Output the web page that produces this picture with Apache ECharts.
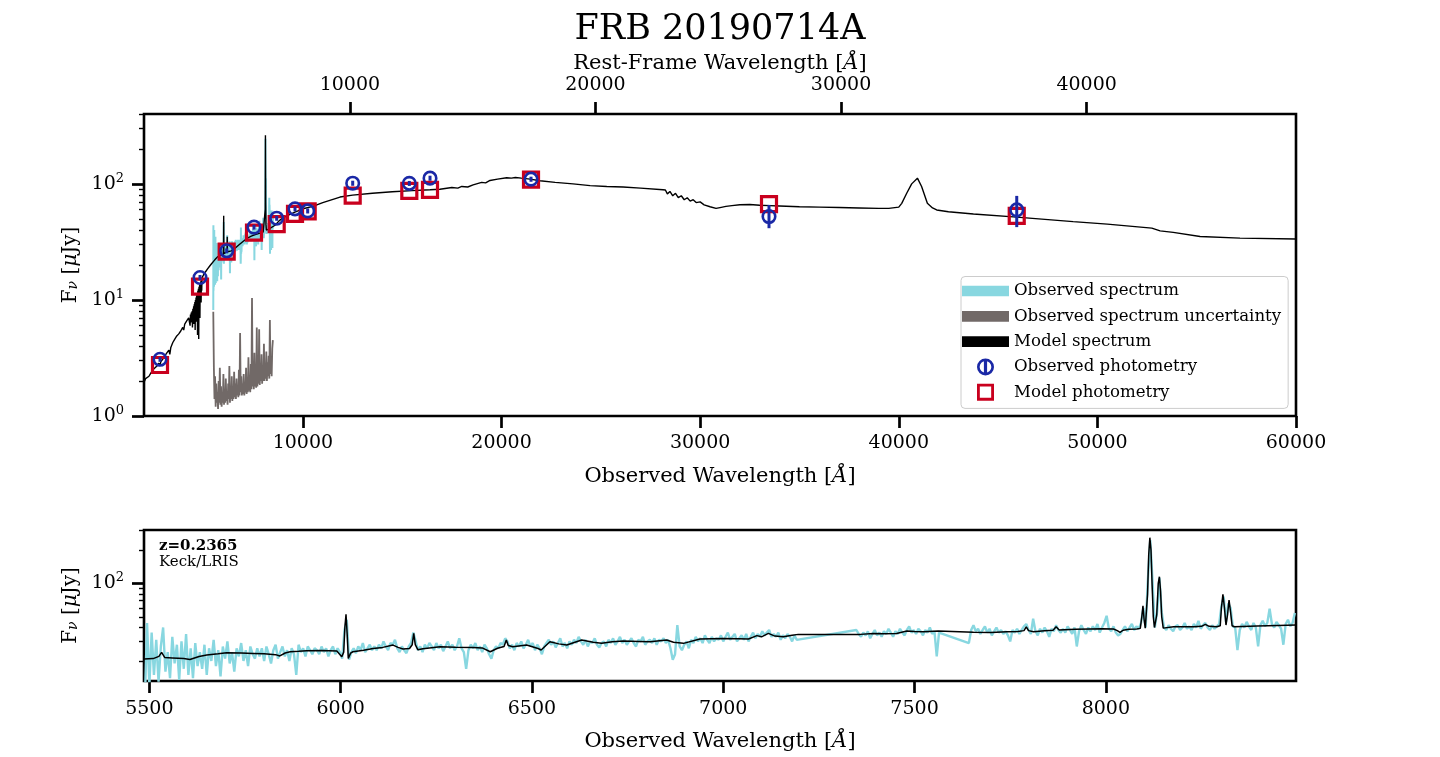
<!DOCTYPE html>
<html><head><meta charset="utf-8">
<script src="https://cdn.jsdelivr.net/npm/echarts@6/dist/echarts.min.js"></script>
<style>html,body{margin:0;background:#fff}#c{width:1440px;height:757px}</style>
</head><body><div id="c"></div>
<script>
// FRB 20190714A host SED — top: full SED, bottom: Keck/LRIS zoom
const SERIF = 'DejaVu Serif';
const C = {cyan:'#88D7E0', gray:'#716967', blue:'#1A28A6', red:'#C9001E', ink:'#000'};
const Z = 0.2365;

// observed spectrum, uniform grid (start, step in Å); null = masked
const OBS_W0 = 5488, OBS_DW = 6;
const obsFlux = [
  8.2,44,12,36,15,31,13,27,40,16,24,14,33,19,28,13.5,30,17,35,15,26,14,29,18,24,
  17,28,15,26,20,31,18,25,14.5,27,21,30,19,24,16,26,22,29,20,25,18,27,23,21,26,
  22,26,20,27,23,19,25,28,21,24,27,22,25,20,26,23,15,28,24,26,22,27,25,23,26,
  25,23,27,24,26,22,25,27,23,26,24,21,38,47,20.5,24,26,23.5,27,25,29,24,26,28,25,
  27,25,28,26,30,27,25,29,28,31,26,24,27,25,23.5,27,29,36,30,25,27,24,28,26,29,
  27,25,29,26,28,24.5,27,30,26,28,25,27,32,26,24,17,25,28,26,29,25,27,24,28,26,
  23,21,25,27,26,29,28,32,30,26,28,25,29,27,30,26,28,31,27,29,25,28,26,23,27,
  29,31,28,30,26.5,29,32,27,29,26,30,28,31,29,33,30,28,31,27,30,29,32,28,26.5,29,
  30,27,31,29,32,28,30,33,29,31,28,30,32,29,27,31,30,33,28,30,31,29,32,28,31,
  30,32,29,31,26,20.5,23,42,27,25,28,30,26,31,29,33,30,32,29,34,31,29,33,30,32,
  31,34,30,33,36,31,33,35,30,32,34,31,35,30,33,36,32,35,33,37,34,36,38,33,35,
  33,36,31,34,32,35,33,30,34,31,null,null,null,null,null,null,null,null,null,null,null,null,null,null,null,
  null,null,null,null,null,null,null,null,null,null,38,35,33,36,34,37,32,35,38,34,36,33,37,35,39,
  36,33,37,35,39,36,34,38,41,36,38,35,39,37,34,38,36,40,35,37,22,36,null,null,null,
  null,null,null,null,null,null,null,null,null,29,38,42,37,39,35,38,41,36,39,34,37,40,36,38,35,
  37,34,30,38,36,39,35,38,41,43,38,35,48,37,34,39,36,40,37,33,39,37,42,38,36,
  39,36,41,38,35,40,27,37,42,38,35,40,37,41,38,43,36,40,44,51,39,37,41,36,34,
  35,38,41,37,40,43,38,41,39,44,60,40,110,245,105,40,55,112,55,40,38,42,39,37,41,
  42,38,40,44,39,41,38,43,40,46,39,42,44,40,38,42,39,41,43,62,76,45,66,60,41,
  40,25,38,43,40,45,41,38,44,40,27,42,46,41,44,59,43,40,45,42,39,28,43,47,41,
  44,54
];

// observed spectrum uncertainty, grid 5488 + 30 i
const ERR_W0 = 5488, ERR_DW = 30;
const errFlux = [
  7.9,2.6,1.4,2.2,1.2,1.9,1.3,1.6,1.15,2.0,1.3,2.6,1.25,1.8,1.2,1.5,1.3,2.3,1.25,1.7,
  1.3,2.1,1.35,1.6,1.25,1.9,1.4,2.7,1.3,1.8,1.4,2.2,1.35,1.7,1.4,2.4,1.45,1.9,1.4,2.1,
  1.5,1.8,1.45,2.5,1.5,5.2,1.6,2.2,1.5,1.9,1.55,2.3,1.5,1.8,1.6,2.6,1.55,2.0,1.6,3.2,
  1.65,2.1,1.6,2.8,1.7,10.4,1.8,2.4,1.7,3.5,1.8,2.6,1.75,5.8,1.8,3.0,1.9,5.6,1.85,2.7,
  2.0,3.4,1.9,2.6,2.0,4.2,2.0,2.8,2.1,3.6,2.0,2.9,2.2,3.3,2.1,6.7,2.3,3.1,2.2,3.8,4.5
];

// model spectrum, full SED [wavelength Å, flux µJy]
const modelTop = [
  [2000,1.95],[2080,2.1],[2150,2.05],[2250,2.2],[2350,2.35],[2450,2.5],[2550,2.45],[2650,2.7],
  [2750,2.85],[2800,2.7],[2850,2.95],[2950,3.1],[3050,3.3],[3150,3.5],[3250,3.7],[3300,3.4],
  [3350,3.9],[3450,4.3],[3550,4.6],[3650,4.9],[3750,5.1],[3850,5.4],[3950,5.8],[4000,5.5],
  [4050,6.2],[4150,6.6],[4250,7.0],[4300,7.2],[4320,6.0],[4340,7.5],[4360,6.4],[4380,7.8],
  [4400,6.8],[4420,8.0],[4440,5.8],[4460,8.4],[4480,7.0],[4500,8.8],[4515,6.2],[4530,9.2],
  [4545,7.5],[4560,9.6],[4575,5.5],[4590,10],[4605,8],[4620,10.5],[4635,6.5],[4650,11],
  [4665,8.5],[4680,11.5],[4695,5.0],[4710,12],[4725,9],[4740,12.5],[4755,4.6],[4770,13],
  [4785,10],[4800,13.5],[4815,7],[4830,14],[4845,11],[4860,14.5],[4875,9.5],[4890,15],
  [4905,12],[4920,15.5],[4960,16],[5000,16.5],[5100,17.5],
  [5200,18.5],[5300,19.5],[5400,20.5],[5500,21.5],[5600,22.5],[5700,23.5],[5850,24.2],[5990,24.6],
  [6005,30],[6012,53],[6020,25],[6100,25.5],[6180,26],[6191,35],[6200,26],[6400,26.5],
  [6600,28],[6800,30],[7000,32],[7200,34],[7400,35.5],[7600,36.5],[7800,37.5],[8000,38.5],
  [8095,39],[8105,60],[8114,262],[8125,70],[8140,45],[8160,40],[8300,41],[8400,42],
  [8600,44],[8800,48],[9000,51],[9300,54],[9600,57],[10000,61],[10500,64],[11000,69],
  [11870,77],[12500,80],[13500,83],[14500,85.5],[15500,87.5],[16400,89],[16900,90],[17500,93],
  [17800,92],[18000,95],[18300,94],[18570,98],[19000,103],[19200,102],[19420,107],[19800,110],
  [20260,113],[20500,112],[20700,113.5],[21000,112],[21440,110],[21940,106.5],[22700,103],[23600,100],
  [24460,96.5],[25300,95],[26120,94],[27000,92],[28130,89],[28250,88.5],[28350,82],[28480,86],
  [28620,79],[28760,83],[28900,76],[29050,79],[29200,73],[29350,76],[29500,71],[29650,73],
  [29800,69],[30000,70],[30200,66],[30500,63.5],[30800,61.5],[31000,62.5],[31300,64],[31600,65],
  [32000,66],[32500,66.5],[33000,65.5],[33500,65],[34000,64.5],[35000,63.5],[36000,63],[37000,62.5],
  [38000,62],[39000,61.5],[39500,61.5],[40000,63],[40150,68],[40400,83],[40650,100],[40940,112],
  [41150,95],[41440,68],[41700,62],[41910,59.6],[42500,57.5],[43760,55],[45940,51.7],[48780,47.3],
  [50500,45],[52740,41.6],[53160,39.4],[53820,38.2],[55170,35.2],[57180,34.1],[60000,33.5]
];

// model spectrum, LRIS range, with emission lines
const modelBot = [
  [5486,20.8],[5510,21.0],[5525,22.0],[5532,23.9],[5540,21.5],[5560,21.3],[5590,21.0],[5606,20.6],
  [5630,21.9],[5650,22.6],[5680,23.2],[5702,23.7],[5740,23.6],[5771,23.4],[5800,23.2],[5830,22.8],
  [5841,22.2],[5855,23.6],[5868,24.2],[5890,24.4],[5911,24.7],[5950,24.8],[5990,24.6],[6003,21.8],
  [6008,24],[6011,40],[6014,52.6],[6017,35],[6020,21.1],[6026,23.5],[6032,24.2],[6060,25.0],
  [6085,25.9],[6110,26.5],[6137,27.8],[6150,26.5],[6163,25.6],[6180,25.9],[6187,28],[6191,35.4],
  [6195,28],[6202,25.2],[6215,25.8],[6260,26.8],[6300,26.6],[6346,26.5],[6370,26.2],[6391,24.2],
  [6410,26.0],[6427,27],[6433,30.9],[6438,27.5],[6450,26.8],[6486,27.8],[6516,25.9],[6524,25.1],
  [6547,29.8],[6570,28.5],[6591,27.8],[6630,30.9],[6660,29.5],[6682,28.8],[6710,29.8],[6739,30.2],
  [6780,30.0],[6809,29.8],[6852,30.9],[6870,29.5],[6896,28.8],[6939,31.5],[6970,31.7],[7000,31.9],
  [7040,31.7],[7066,31.5],[7088,33.8],[7100,33.0],[7118,35.4],[7135,33.5],[7157,33.0],[7180,34.0],
  [7196,34.7],[7358,34.7],[7392,35.4],[7420,35.2],[7453,35.4],[7480,37.2],[7500,36.8],[7523,36.6],
  [7562,37.2],[7567,36.2],[7654,36.2],[7700,36.0],[7741,36.6],[7770,36.8],[7786,37.5],[7792,40.6],
  [7798,37.5],[7811,36.6],[7840,37.5],[7862,37.8],[7870,40.6],[7878,38.0],[7920,38.5],[7959,38.8],
  [7990,38.9],[8020,38.8],[8030,37.5],[8037,36.2],[8045,37.8],[8060,38.5],[8081,38.8],[8090,39.3],
  [8094,50],[8097,62.8],[8100,47],[8103,39.5],[8106,40.5],[8109,80],[8112,180],[8115,257.5],
  [8118,200],[8121,95],[8124,50],[8127,40],[8130,39.3],[8133,52],[8137,100],[8140,114.7],
  [8143,85],[8146,50],[8150,39.5],[8155,38.8],[8177,40.6],[8229,40.6],[8250,41],[8260,42.7],
  [8270,41],[8290,40.6],[8299,41.5],[8302,60],[8306,79.6],[8310,60],[8314,42.1],[8318,52],
  [8322,70.8],[8326,55],[8330,41.5],[8336,40.6],[8395,41.2],[8450,41.8],[8497,42.1]
];

// photometry
const photWave  = [2806,4820,6163,7538,8681,9603,10241,12507,15358,16400,21485,33467,45940];
const photObs   = [3.08,15.6,26.5,42.4,50.6,60.9,58.5,101.4,101,112,109.8,52.3,59.7];
const photLo    = [2.93,14.8,25.2,40.3,48.1,57.9,55.6,96.3,96,106.4,104.3,41.5,42.4];
const photHi    = [3.23,16.4,27.8,44.5,53.1,63.9,61.4,106.5,106,117.6,115.3,65.9,78.8];
const photModel = [2.75,13.0,26.1,38.0,45.0,55.1,58.0,79.3,87.0,88.8,109.0,66.8,52.9];

// axis ranges and ticks
const TOP_X = [2000, 60000], TOP_Y = [1, 400];
const BOT_X = [5486, 8497], BOT_Y = [13.2, 302];
const obsTicks  = [10000,20000,30000,40000,50000,60000];
const restTicks = [10000,20000,30000,40000];
const botTicks  = [5500,6000,6500,7000,7500,8000];
const topMajor  = [1,10,100];
const topMinor  = [2,3,4,5,6,7,8,9,20,30,40,50,60,70,80,90,200,300,400];
const botMajor  = [100];
const botMinor  = [20,30,40,50,60,70,80,90,200,300];

const obsData = obsFlux.map((f,i)=>[OBS_W0+OBS_DW*i, f]);
const errData = errFlux.map((f,i)=>[ERR_W0+ERR_DW*i, f]);

const T = {fontFamily:SERIF, color:C.ink};
const AXNAME = {...T, fontSize:21, rich:{i:{...T,fontSize:21,fontStyle:'italic'}}};
const YNAME = {...T, fontSize:20, rich:{
  n:{...T,fontSize:20}, s:{...T,fontSize:14,fontStyle:'italic',verticalAlign:'bottom'},
  i:{...T,fontSize:20,fontStyle:'italic'}}};
const sci = v => '{b|10}{sup|'+Math.round(Math.log10(v))+'}';
const SCIRICH = {b:{...T,fontSize:19,lineHeight:24}, sup:{...T,fontSize:13,verticalAlign:'top'}};

function xAx(grid, range, ticks, pos, name, gap, margin){
  return {gridIndex:grid, type:'value', min:range[0], max:range[1], position:pos,
    name, nameLocation:'middle', nameGap:gap, nameTextStyle:AXNAME,
    axisLine:{show:false}, splitLine:{show:false},
    axisTick:{customValues:ticks, length:12, lineStyle:{width:2.7,color:C.ink}},
    axisLabel:{customValues:ticks, margin, formatter:v=>String(v), ...T, fontSize:19}};
}
function yMajor(grid, range, ticks){
  return {gridIndex:grid, type:'log', logBase:10, min:range[0], max:range[1], position:'left',
    name:'{n|F}{s|ν} [{i|μ}Jy]', nameLocation:'middle', nameRotate:90, nameGap:62, nameTextStyle:YNAME,
    axisLine:{show:false}, splitLine:{show:false},
    axisTick:{customValues:ticks, length:12, lineStyle:{width:2.7,color:C.ink}},
    axisLabel:{customValues:ticks, margin:20, formatter:sci, rich:SCIRICH}};
}
function yMinor(grid, range, ticks){
  return {gridIndex:grid, type:'log', logBase:10, min:range[0], max:range[1], position:'left', offset:0,
    axisLine:{show:false}, splitLine:{show:false}, axisLabel:{show:false},
    axisTick:{customValues:ticks, length:5, lineStyle:{width:1.4,color:C.ink}}};
}

// legend icons, all filled shapes (no stroke) so every row has the same height
const BAR = 'path://M0,0h44v10h-44Z';
const RING = 'path://M8,0A8,8 0 1,1 8,16A8,8 0 1,1 8,0ZM8,2.5A5.5,5.5 0 1,0 8,13.5A5.5,5.5 0 1,0 8,2.5ZM6.5,2.5L9.5,2.5L9.5,13.5L6.5,13.5Z';
const FRAME = 'path://M0,0h18v18h-18ZM3,3v12h12v-12Z';

const chart = echarts.init(document.getElementById('c'), null, {renderer:'canvas'});
chart.setOption({
  animation:false,
  backgroundColor:'#fff',
  textStyle:{fontFamily:SERIF},
  title:{text:'FRB 20190714A', left:'center', top:7,
    textStyle:{...T, fontSize:35, fontWeight:'normal'}},
  grid:[
    {left:144, top:114, width:1152, height:302, show:true, borderColor:C.ink, borderWidth:2.6, backgroundColor:'transparent'},
    {left:144, top:530, width:1152, height:151, show:true, borderColor:C.ink, borderWidth:2.6, backgroundColor:'transparent'}
  ],
  xAxis:[
    xAx(0, TOP_X, obsTicks, 'bottom', 'Observed Wavelength [{i|Å}]', 50, 18),
    xAx(0, [TOP_X[0]/(1+Z), TOP_X[1]/(1+Z)], restTicks, 'top', 'Rest-Frame Wavelength [{i|Å}]', 40, 19),
    xAx(1, BOT_X, botTicks, 'bottom', 'Observed Wavelength [{i|Å}]', 50, 19)
  ],
  yAxis:[
    yMajor(0, TOP_Y, topMajor), yMinor(0, TOP_Y, topMinor),
    yMajor(1, BOT_Y, botMajor), yMinor(1, BOT_Y, botMinor)
  ],
  legend:{orient:'vertical', left:961, top:276.5, padding:[6,7,7.7,1], itemGap:8.3,
    itemWidth:47, itemHeight:17, selectedMode:false,
    backgroundColor:'#fff', borderColor:'#cccccc', borderWidth:1, borderRadius:4,
    itemStyle:{borderWidth:0},
    textStyle:{...T, fontSize:16.6, lineHeight:16},
    data:[
      {name:'Observed spectrum', icon:BAR, itemStyle:{color:C.cyan, borderWidth:0}},
      {name:'Observed spectrum uncertainty', icon:BAR, itemStyle:{color:C.gray, borderWidth:0}},
      {name:'Model spectrum', icon:BAR, itemStyle:{color:C.ink, borderWidth:0}},
      {name:'Observed photometry', icon:RING, itemStyle:{color:C.blue, borderWidth:0}},
      {name:'Model photometry', icon:FRAME, itemStyle:{color:C.red, borderWidth:0}}
    ]},
  graphic:[
    {type:'text', left:159, top:539, style:{text:'z=0.2365', font:'bold 15px "DejaVu Serif"', fill:C.ink}},
    {type:'text', left:159, top:555, style:{text:'Keck/LRIS', font:'15px "DejaVu Serif"', fill:C.ink}}
  ],
  series:[
    {name:'Observed spectrum', type:'line', xAxisIndex:0, yAxisIndex:0, data:obsData, connectNulls:true,
      showSymbol:false, symbol:'none', lineStyle:{color:C.cyan, width:2}, itemStyle:{color:C.cyan}, z:2},
    {name:'Observed spectrum uncertainty', type:'line', xAxisIndex:0, yAxisIndex:0, data:errData,
      showSymbol:false, symbol:'none', lineStyle:{color:C.gray, width:1.8}, itemStyle:{color:C.gray}, z:2},
    {name:'Model spectrum', type:'line', xAxisIndex:0, yAxisIndex:0, data:modelTop,
      showSymbol:false, symbol:'none', lineStyle:{color:C.ink, width:1.4}, itemStyle:{color:C.ink}, z:3},
    {name:'Model photometry', type:'scatter', xAxisIndex:0, yAxisIndex:0, symbol:'rect', symbolSize:15,
      data:photWave.map((w,i)=>[w, photModel[i]]),
      itemStyle:{color:'transparent', borderColor:C.red, borderWidth:3.2, opacity:1}, z:4},
    {type:'custom', xAxisIndex:0, yAxisIndex:0, z:5, silent:true,
      data:photWave.map((w,i)=>[w, photLo[i], photHi[i]]),
      renderItem(params, api){
        const a = api.coord([api.value(0), api.value(1)]);
        const b = api.coord([api.value(0), api.value(2)]);
        return {type:'line', shape:{x1:a[0], y1:a[1], x2:b[0], y2:b[1]}, style:{stroke:C.blue, lineWidth:3}};
      }},
    {name:'Observed photometry', type:'scatter', xAxisIndex:0, yAxisIndex:0, symbol:'circle', symbolSize:12.5,
      data:photWave.map((w,i)=>[w, photObs[i]]),
      itemStyle:{color:'transparent', borderColor:C.blue, borderWidth:2.6, opacity:1}, z:6},
    {name:'Observed spectrum', type:'line', xAxisIndex:2, yAxisIndex:2, data:obsData, connectNulls:true,
      showSymbol:false, symbol:'none', lineStyle:{color:C.cyan, width:2.4}, itemStyle:{color:C.cyan}, z:2},
    {name:'Model spectrum', type:'line', xAxisIndex:2, yAxisIndex:2, data:modelBot,
      showSymbol:false, symbol:'none', lineStyle:{color:C.ink, width:1.5}, itemStyle:{color:C.ink}, z:3}
  ]
});
</script></body></html>
